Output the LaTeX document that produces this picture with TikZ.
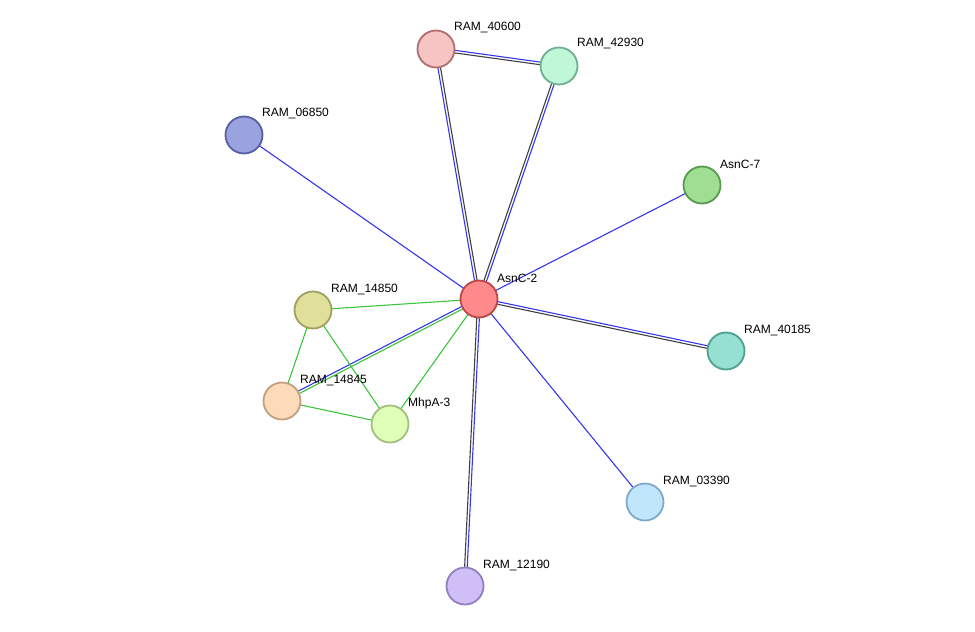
\documentclass[tikz,border=0pt]{standalone}
\usepackage{fontspec}
\setmainfont{Liberation Sans}
\usetikzlibrary{calc,backgrounds}
\definecolor{eblue}{HTML}{3535F0}
\definecolor{egreen}{HTML}{3CC43C}
\definecolor{eblack}{HTML}{404040}
\tikzset{
 prot/.style={circle,minimum size=37pt,inner sep=0pt,line width=1.8pt},
 lab/.style={anchor=west,font=\fontsize{12}{14}\selectfont,inner sep=0pt},
 eb/.style={eblue,line width=1.1pt},
 eg/.style={egreen,line width=1.1pt},
 ek/.style={eblack,line width=1.1pt}
}
\newcommand{\dbl}[4]{%
 \draw[#3] ($(#1.center)!1.3pt!90:(#2.center)$) -- ($(#2.center)!1.3pt!-90:(#1.center)$);
 \draw[#4] ($(#1.center)!1.3pt!-90:(#2.center)$) -- ($(#2.center)!1.3pt!90:(#1.center)$);}
\begin{document}
\begin{tikzpicture}[x=1pt,y=-1pt]
\path[use as bounding box] (0,0) rectangle (975,632);
\node[prot,fill={rgb,255:red,255;green,138;blue,138},draw={rgb,255:red,190;green,70;blue,70}] (a2) at (479,299) {};
\node[prot,fill={rgb,255:red,247;green,196;blue,196},draw={rgb,255:red,176;green,112;blue,112}] (r40600) at (436,49) {};
\node[prot,fill={rgb,255:red,191;green,247;blue,217},draw={rgb,255:red,112;green,176;blue,144}] (r42930) at (559,66) {};
\node[prot,fill={rgb,255:red,154;green,163;blue,224},draw={rgb,255:red,85;green,96;blue,160}] (r06850) at (244,135) {};
\node[prot,fill={rgb,255:red,158;green,223;blue,148},draw={rgb,255:red,90;green,154;blue,80}] (a7) at (702,185) {};
\node[prot,fill={rgb,255:red,224;green,224;blue,154},draw={rgb,255:red,160;green,160;blue,96}] (r14850) at (313,310) {};
\node[prot,fill={rgb,255:red,149;green,223;blue,211},draw={rgb,255:red,80;green,160;blue,144}] (r40185) at (726,351) {};
\node[prot,fill={rgb,255:red,253;green,218;blue,186},draw={rgb,255:red,192;green,160;blue,128}] (r14845) at (282,401) {};
\node[prot,fill={rgb,255:red,224;green,255;blue,184},draw={rgb,255:red,160;green,192;blue,128}] (m3) at (390,424) {};
\node[prot,fill={rgb,255:red,191;green,230;blue,251},draw={rgb,255:red,128;green,168;blue,200}] (r03390) at (645,502) {};
\node[prot,fill={rgb,255:red,208;green,191;blue,247},draw={rgb,255:red,144;green,128;blue,192}] (r12190) at (465,586) {};
\begin{pgfonlayer}{background}
\dbl{a2}{r40600}{eb}{ek}
\dbl{a2}{r42930}{ek}{eb}
\dbl{a2}{r40185}{eb}{ek}
\dbl{a2}{r12190}{eb}{ek}
\dbl{r40600}{r42930}{eb}{ek}
\dbl{a2}{r14845}{eg}{eb}
\draw[eb] (a2.center) -- (r06850.center);
\draw[eb] (a2.center) -- (a7.center);
\draw[eb] (a2.center) -- (r03390.center);
\draw[eg] (a2.center) -- (r14850.center);
\draw[eg] (a2.center) -- (m3.center);
\draw[eg] (r14850.center) -- (r14845.center);
\draw[eg] (r14850.center) -- (m3.center);
\draw[eg] (r14845.center) -- (m3.center);
\end{pgfonlayer}
\node[lab] (l1) at (497,278) {AsnC-2};
\node[lab] (l2) at (454,28) {RAM\_40600};
\node[lab] (l3) at (577,44) {RAM\_42930};
\node[lab] (l4) at (262,114) {RAM\_06850};
\node[lab] (l5) at (720,164) {AsnC-7};
\node[lab] (l6) at (331,289) {RAM\_14850};
\node[lab] (l7) at (744,330) {RAM\_40185};
\node[lab] (l8) at (300,380) {RAM\_14845};
\node[lab] (l9) at (408,403) {MhpA-3};
\node[lab] (l10) at (663,481) {RAM\_03390};
\node[lab] (l11) at (483,565) {RAM\_12190};
\end{tikzpicture}
\end{document}
